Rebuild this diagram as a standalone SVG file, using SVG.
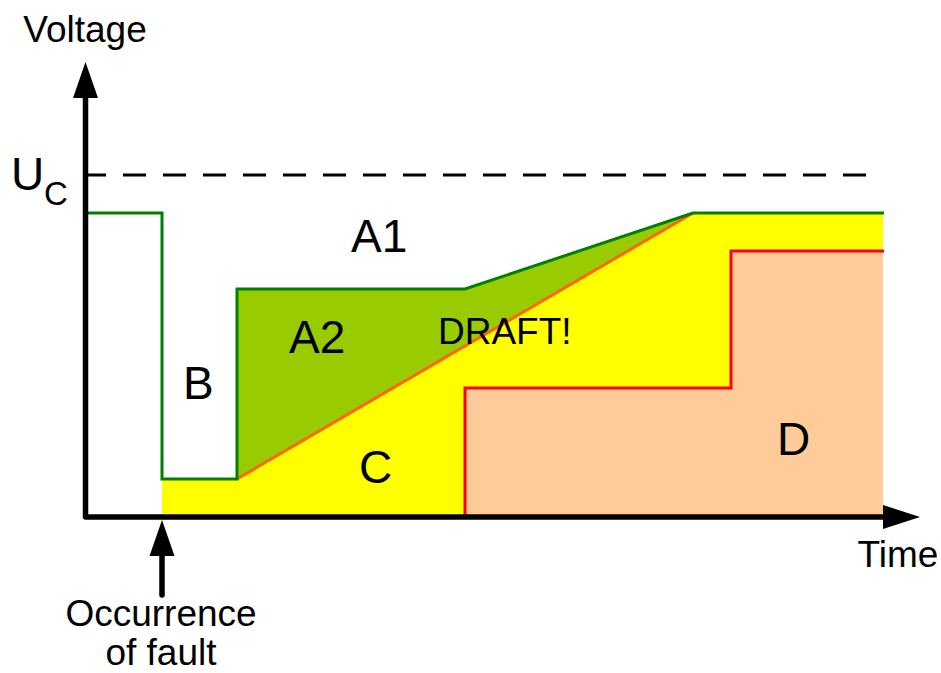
<svg xmlns="http://www.w3.org/2000/svg" width="941" height="673" viewBox="0 0 941 673">
<style>
text{font-family:"Liberation Sans",Arial,sans-serif;fill:#000}
.lbl{font-size:46px}
.ax{font-size:37px}
.thin{fill:none;stroke-width:3;stroke-linejoin:miter}
</style>
<rect width="941" height="673" fill="#fff"/>
<g id="region-C">
<polygon points="162,479 237,479 693,213 883,213 883,517 162,517" fill="#FFFF00"/>
</g>
<g id="region-A2">
<polygon points="237,479 237,289 465,289 693,213" fill="#99CC00"/>
</g>
<g id="region-D">
<polygon points="465,517 465,388 731,388 731,251 883,251 883,517" fill="#FFCC99"/>
</g>
<g id="curves">
<line x1="83" y1="175" x2="883" y2="175" stroke="#000" stroke-width="3" stroke-dasharray="23 17"/>
<polyline class="thin" points="237,479 693,213" stroke="#FF6600"/>
<polyline class="thin" points="465,517 465,388 731,388 731,251 884,251" stroke="#FF0000"/>
<polyline class="thin" points="86,213 162,213 162,479 237,479 237,289 465,289 693,213 884,213" stroke="#008000"/>
</g>
<g id="connectors">
<path d="M85.5,97 V517 H884" fill="none" stroke="#000" stroke-width="5.5" stroke-linejoin="round"/>
<polygon points="85.5,62 73,98 98,98" fill="#000"/>
<polygon points="920,517 883,505 883,529" fill="#000"/>
<line x1="162" y1="554" x2="162" y2="595" stroke="#000" stroke-width="5.5" stroke-linecap="round"/>
<polygon points="162,520 149.5,556 174.5,556" fill="#000"/>
</g>
<g id="labels">
<text class="ax" x="85" y="42" text-anchor="middle">Voltage</text>
<text class="ax" x="898" y="567" text-anchor="middle">Time</text>
<text class="ax" x="161" y="626" text-anchor="middle">Occurrence</text>
<text class="ax" x="161" y="665" text-anchor="middle">of fault</text>
<text class="lbl" x="11" y="190">U</text>
<text x="44" y="205" font-size="33">C</text>
<text class="lbl" x="351" y="252">A1</text>
<text class="lbl" x="289" y="353">A2</text>
<text class="lbl" x="183" y="399">B</text>
<text class="lbl" x="359" y="483">C</text>
<text class="lbl" x="777" y="455">D</text>
<text x="438" y="344" font-size="37">DRAFT!</text>
</g>
</svg>
